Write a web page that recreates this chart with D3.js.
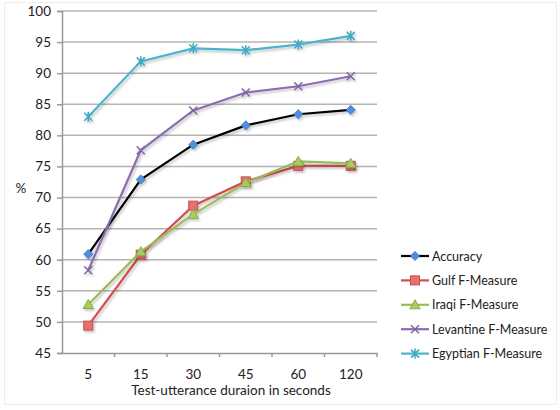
<!DOCTYPE html>
<html>
<head>
<meta charset="utf-8">
<script src="https://cdn.jsdelivr.net/npm/d3@7"></script>
<style>
  body { margin: 0; background: #fff; }
  text { font-family: Lato, "Open Sans", sans-serif; fill: #222; }
</style>
</head>
<body>
<div id="chart"></div>
<script>
// data
const durations = ['5', '15', '30', '45', '60', '120'];
const accuracy = [60.9, 72.9, 78.5, 81.6, 83.4, 84.1];
const gulf = [49.4, 60.8, 68.7, 72.6, 75.1, 75.1];
const iraqi = [52.8, 61.3, 67.3, 72.4, 75.8, 75.5];
const levantine = [58.3, 77.6, 84.0, 86.9, 87.9, 89.5];
const egyptian = [83.0, 91.9, 94.0, 93.7, 94.6, 96.0];
const yTicks = [45, 50, 55, 60, 65, 70, 75, 80, 85, 90, 95, 100];

const series = [
  { name: 'Accuracy', values: accuracy, line: '#000', fill: '#4f8fdc', stroke: '#3d78c0', marker: 'diamond' },
  { name: 'Gulf F-Measure', values: gulf, line: '#d0504d', fill: '#e8706c', stroke: '#c0504d', marker: 'square' },
  { name: 'Iraqi F-Measure', values: iraqi, line: '#9bbb59', fill: '#a8cc62', stroke: '#8aab48', marker: 'triangle' },
  { name: 'Levantine F-Measure', values: levantine, line: '#8a6cb0', fill: 'none', stroke: '#8064a2', marker: 'x' },
  { name: 'Egyptian F-Measure', values: egyptian, line: '#4bb4cc', fill: 'none', stroke: '#3fa8c2', marker: 'star' }
];

const margin = { top: 11, right: 183, bottom: 57, left: 62 };
const W = 560, H = 410;
const width = W - margin.left - margin.right;
const height = H - margin.top - margin.bottom;

const svg = d3.select('#chart').append('svg').attr('width', W).attr('height', H);

// outer frame
svg.append('rect')
  .attr('x', 4.5).attr('y', 2.5).attr('width', 552).attr('height', 402)
  .attr('fill', 'none').attr('stroke', '#eeeee6');

const defs = svg.append('defs');
const f = defs.append('filter').attr('id', 'shadow').attr('x', '-10%').attr('y', '-10%').attr('width', '130%').attr('height', '130%');
f.append('feDropShadow').attr('dx', 1.5).attr('dy', 2).attr('stdDeviation', 1.2).attr('flood-color', '#000').attr('flood-opacity', 0.22);

const g = svg.append('g').attr('transform', `translate(${margin.left},${margin.top})`);

const x = d3.scaleBand().domain(durations).range([0, width]);
const y = d3.scaleLinear().domain([45, 100]).range([height, 0]);

// gridlines
g.append('g').selectAll('line')
  .data(yTicks.slice(1))
  .enter().append('line')
  .attr('x1', 0).attr('x2', width)
  .attr('y1', d => y(d)).attr('y2', d => y(d))
  .attr('stroke', '#b4b4b4').attr('stroke-width', 1.5);

// y axis
const yAxis = g.append('g')
  .call(d3.axisLeft(y).tickValues(yTicks).tickSize(5).tickPadding(6));
yAxis.select('.domain').attr('stroke', '#999').attr('stroke-width', 1.5);
yAxis.selectAll('.tick line').attr('stroke', '#999').attr('stroke-width', 1.5);
yAxis.selectAll('text').style('font-size', '13.5px').attr('fill', '#222');

// x axis
const xAxis = g.append('g').attr('transform', `translate(0,${height})`)
  .call(d3.axisBottom(x).tickSize(0).tickPadding(16));
xAxis.select('.domain').attr('stroke', '#999').attr('stroke-width', 1.5);
xAxis.selectAll('text').style('font-size', '13.5px').attr('fill', '#222');
xAxis.selectAll('.sep')
  .data(durations.slice(1).concat(['end']))
  .enter().append('line')
  .attr('class', 'sep')
  .attr('x1', (d, i) => x.step() * (i + 1)).attr('x2', (d, i) => x.step() * (i + 1))
  .attr('y1', 0).attr('y2', 4)
  .attr('stroke', '#999').attr('stroke-width', 1.5);

// axis titles
svg.append('text')
  .attr('x', 231).attr('y', 395)
  .attr('text-anchor', 'middle').style('font-size', '13.5px')
  .text('Test-utterance duraion in seconds');
svg.append('text')
  .attr('x', 21).attr('y', 193)
  .attr('text-anchor', 'middle').style('font-size', '13.5px')
  .text('%');

function drawMarker(sel, type, s) {
  if (type === 'diamond') {
    sel.append('path').attr('d', 'M0,-4.6L4.6,0L0,4.6L-4.6,0Z')
      .attr('fill', s.fill).attr('stroke', s.stroke).attr('stroke-width', 0.8);
  } else if (type === 'square') {
    sel.append('rect').attr('x', -4.5).attr('y', -4.5).attr('width', 9).attr('height', 9)
      .attr('fill', s.fill).attr('stroke', s.stroke).attr('stroke-width', 1);
  } else if (type === 'triangle') {
    sel.append('path').attr('d', 'M0,-5L5.2,4L-5.2,4Z')
      .attr('fill', s.fill).attr('stroke', s.stroke).attr('stroke-width', 1);
  } else if (type === 'x') {
    sel.append('path').attr('d', 'M-4,-4L4,4M-4,4L4,-4')
      .attr('stroke', s.stroke).attr('stroke-width', 1.5).attr('fill', 'none');
  } else {
    sel.append('path').attr('d', 'M-4,-4L4,4M-4,4L4,-4M0,-5L0,5')
      .attr('stroke', s.stroke).attr('stroke-width', 1.5).attr('fill', 'none');
  }
}

const line = d3.line()
  .x((d, i) => x(durations[i]) + x.bandwidth() / 2)
  .y(d => y(d));

series.forEach(s => {
  const sg = g.append('g').attr('filter', 'url(#shadow)');
  sg.append('path').datum(s.values)
    .attr('d', line)
    .attr('fill', 'none')
    .attr('stroke', s.line)
    .attr('stroke-width', 2.2);
  sg.selectAll('.pt')
    .data(s.values)
    .enter().append('g')
    .attr('class', 'pt')
    .attr('transform', (d, i) => `translate(${x(durations[i]) + x.bandwidth() / 2},${y(d)})`)
    .each(function () { drawMarker(d3.select(this), s.marker, s); });
});

// legend
const legend = svg.append('g').attr('transform', 'translate(401,256)');
series.forEach((s, i) => {
  const lg = legend.append('g').attr('transform', `translate(0,${i * 24.4})`);
  lg.append('line').attr('x1', 0).attr('x2', 28).attr('y1', 0).attr('y2', 0)
    .attr('stroke', s.line).attr('stroke-width', 2.2);
  const m = lg.append('g').attr('transform', 'translate(14,0)');
  drawMarker(m, s.marker, s);
  lg.append('text').attr('x', 31).attr('y', 4.5).style('font-size', '12.5px').text(s.name);
});
</script>
</body>
</html>
